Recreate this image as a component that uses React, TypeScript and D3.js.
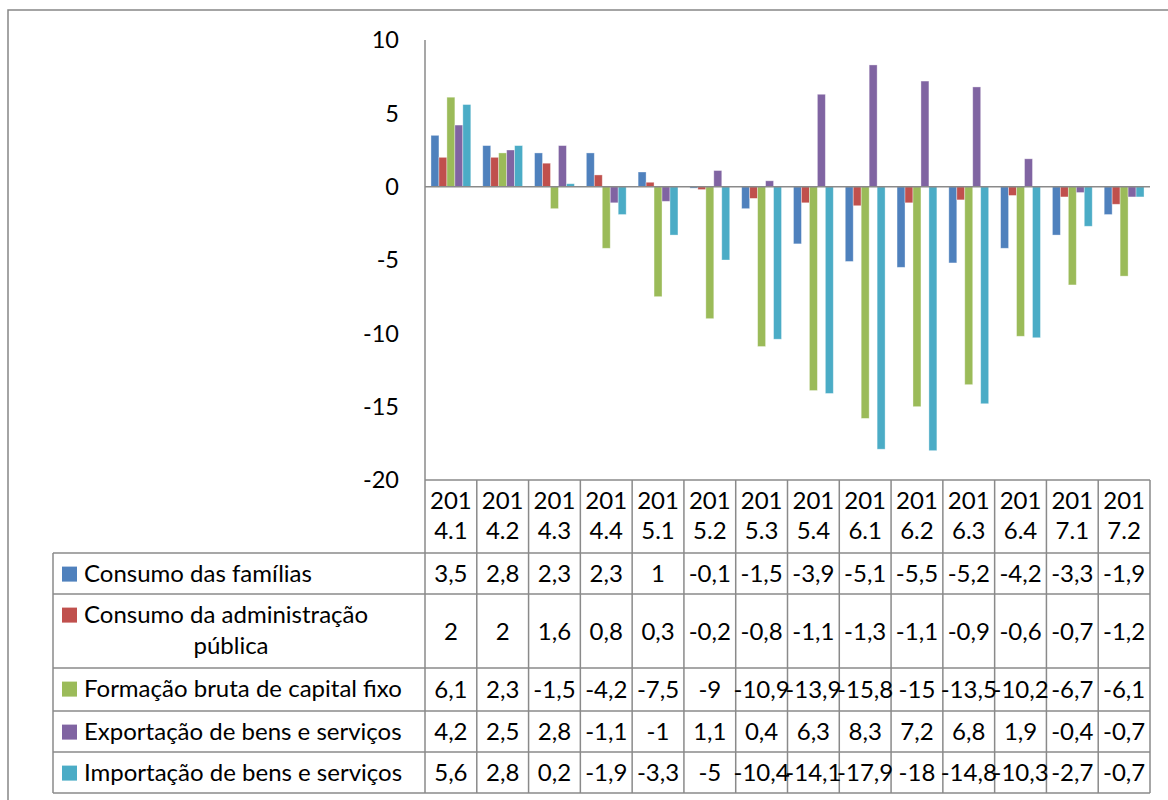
import * as d3 from "d3";

const categories = [
  "2014.1", "2014.2", "2014.3", "2014.4", "2015.1", "2015.2", "2015.3",
  "2015.4", "2016.1", "2016.2", "2016.3", "2016.4", "2017.1", "2017.2",
];

const legendLines = [
  ["Consumo das famílias"],
  ["Consumo da administração", "pública"],
  ["Formação bruta de capital fixo"],
  ["Exportação de bens e serviços"],
  ["Importação de bens e serviços"],
];

const consumoFamilias = [3.5, 2.8, 2.3, 2.3, 1, -0.1, -1.5, -3.9, -5.1, -5.5, -5.2, -4.2, -3.3, -1.9];
const consumoAdmPublica = [2, 2, 1.6, 0.8, 0.3, -0.2, -0.8, -1.1, -1.3, -1.1, -0.9, -0.6, -0.7, -1.2];
const formacaoBruta = [6.1, 2.3, -1.5, -4.2, -7.5, -9, -10.9, -13.9, -15.8, -15, -13.5, -10.2, -6.7, -6.1];
const exportacao = [4.2, 2.5, 2.8, -1.1, -1, 1.1, 0.4, 6.3, 8.3, 7.2, 6.8, 1.9, -0.4, -0.7];
const importacao = [5.6, 2.8, 0.2, -1.9, -3.3, -5, -10.4, -14.1, -17.9, -18, -14.8, -10.3, -2.7, -0.7];

const yTicks = [10, 5, 0, -5, -10, -15, -20];
const colors = ["#4F81BD", "#C0504D", "#9BBB59", "#8064A2", "#4BACC6"];

const series = [consumoFamilias, consumoAdmPublica, formacaoBruta, exportacao, importacao];

const W = 1168;
const H = 800;
const plotLeft = 425;
const plotRight = 1150;
const plotTop = 40;
const plotBottom = 480;
const legendLeft = 53;
// header row, then one row per series
const rowEdges = [480, 553, 594, 668, 711, 752, 793];

const gridColor = "#8a8a8a";
const font = "Lato, 'Open Sans', sans-serif";
const tableFont = 24;

const fmt = (v: number) => String(v).replace(".", ",");

export default function App() {
  const x = d3
    .scaleBand<string>()
    .domain(categories)
    .range([plotLeft, plotRight])
    .paddingInner(0)
    .paddingOuter(0);

  // gap width 150% -> 0.75 bar on each side
  const xInner = d3
    .scaleBand<number>()
    .domain(d3.range(series.length))
    .range([0, x.bandwidth()])
    .paddingInner(0)
    .paddingOuter(0.75);

  const y = d3.scaleLinear().domain([-20, 10]).range([plotBottom, plotTop]);

  const tableBottom = rowEdges[rowEdges.length - 1];

  return (
    <svg
      width={W}
      height={H}
      style={{ position: "absolute", left: 0, top: 0, background: "#fff" }}
      fontFamily={font}
    >
      <rect x={8} y={10} width={W + 40} height={H + 40} fill="#fff" stroke="#868686" strokeWidth={1.5} />

      {/* y tick labels */}
      {yTicks.map((t) => (
        <text
          key={t}
          x={399}
          y={y(t)}
          dy="0.36em"
          textAnchor="end"
          fontSize={23.5}
          fill="#000"
        >
          {fmt(t)}
        </text>
      ))}

      {/* bars */}
      {series.map((vals, si) => (
        <g key={si}>
          {vals.map((v, ci) => {
            const y0 = y(Math.max(0, v));
            const y1 = y(Math.min(0, v));
            return (
              <rect
                key={ci}
                x={x(categories[ci])! + xInner(si)!}
                y={y0}
                width={xInner.bandwidth()}
                height={Math.max(0.5, y1 - y0)}
                fill={colors[si]}
                stroke="rgba(255,255,255,0.45)"
                strokeWidth={0.8}
              />
            );
          })}
        </g>
      ))}

      {/* zero line and value axis */}
      <line x1={plotLeft} x2={plotRight} y1={y(0)} y2={y(0)} stroke={gridColor} strokeWidth={1.5} />
      <line x1={plotLeft} x2={plotLeft} y1={plotTop} y2={tableBottom} stroke={gridColor} strokeWidth={1.5} />

      {/* data table grid */}
      <g stroke={gridColor} strokeWidth={1.5}>
        <line x1={plotLeft} x2={plotRight} y1={rowEdges[0]} y2={rowEdges[0]} />
        {rowEdges.slice(1).map((ry, i) => (
          <line key={i} x1={legendLeft} x2={plotRight} y1={ry} y2={ry} />
        ))}
        <line x1={legendLeft} x2={legendLeft} y1={rowEdges[1]} y2={tableBottom} />
        {categories.map((c) => (
          <line
            key={c}
            x1={x(c)! + x.bandwidth()}
            x2={x(c)! + x.bandwidth()}
            y1={rowEdges[0]}
            y2={tableBottom}
          />
        ))}
      </g>

      {/* category headers, wrapped as in the cell */}
      {categories.map((c) => {
        const cx = x(c)! + x.bandwidth() / 2;
        return (
          <text key={c} textAnchor="middle" fontSize={tableFont} fill="#000">
            <tspan x={cx} y={508.5}>{c.slice(0, 3)}</tspan>
            <tspan x={cx} y={538.5}>{c.slice(3)}</tspan>
          </text>
        );
      })}

      {/* legend + values rows */}
      {series.map((vals, si) => {
        const top = rowEdges[si + 1];
        const bottom = rowEdges[si + 2];
        const lines = legendLines[si];
        const base1 = top + 28.6;
        const mid = (top + bottom) / 2;
        return (
          <g key={si}>
            <rect x={62} y={base1 - 15} width={15} height={15} fill={colors[si]} />
            {lines.map((ln, li) =>
              li === 0 ? (
                <text key={li} x={84} y={base1} fontSize={tableFont} fill="#000">
                  {ln}
                </text>
              ) : (
                <text key={li} x={231} y={base1 + 31.5 * li} fontSize={tableFont} textAnchor="middle" fill="#000">
                  {ln}
                </text>
              )
            )}
            {vals.map((v, ci) => (
              <text
                key={ci}
                x={x(categories[ci])! + x.bandwidth() / 2}
                y={mid}
                dy="0.36em"
                textAnchor="middle"
                fontSize={tableFont}
                fill="#000"
              >
                {fmt(v)}
              </text>
            ))}
          </g>
        );
      })}
    </svg>
  );
}
